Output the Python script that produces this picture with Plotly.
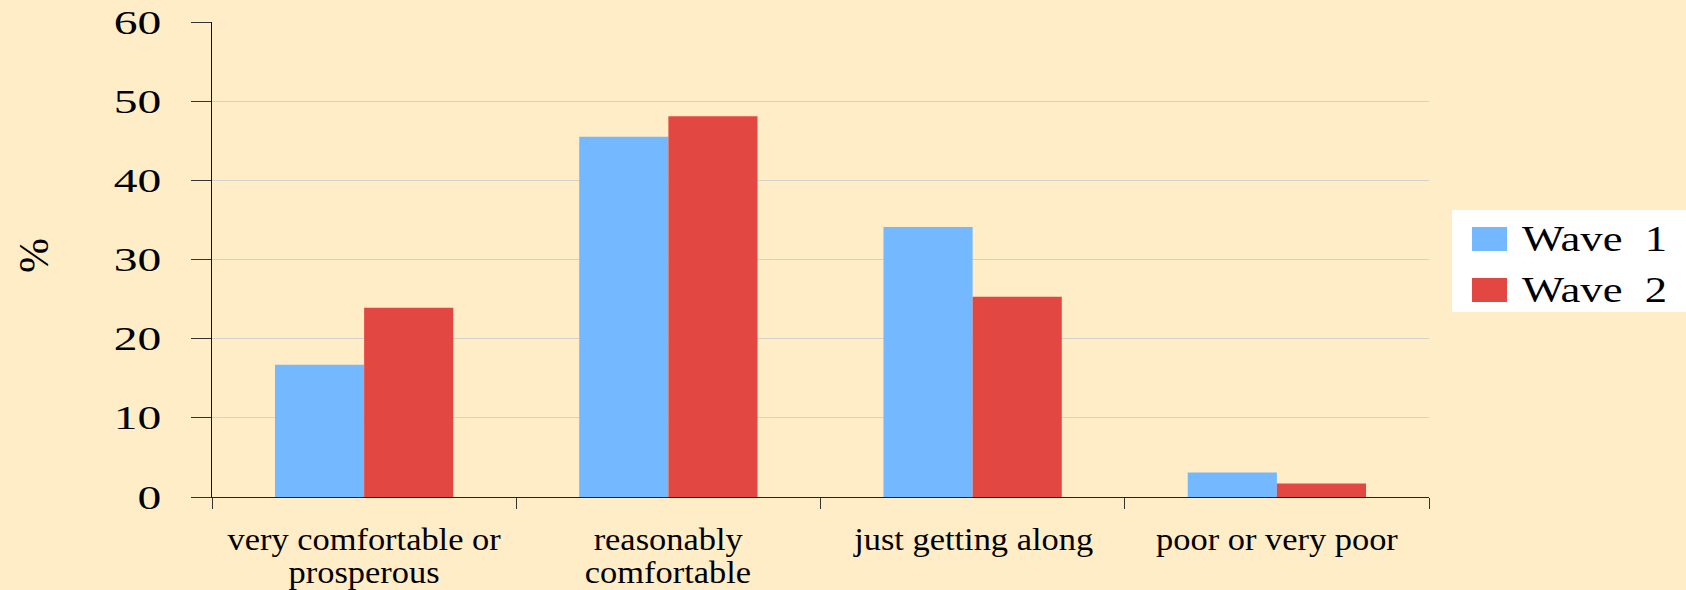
import json
import plotly.graph_objects as go

# Financial situation by survey wave (% of respondents)
categories = [
    "very comfortable or<br>prosperous",
    "reasonably<br>comfortable",
    "just getting along",
    "poor or very poor",
]
wave1 = [16.7, 45.5, 34.1, 3.1]
wave2 = [23.9, 48.1, 25.3, 1.7]
series_names = ["Wave\u00a0\u00a01", "Wave\u00a0\u00a02"]
y_ticks = [0, 10, 20, 30, 40, 50, 60]

BG = "#FFEDC7"
BLUE = "#74B9FF"
RED = "#E34742"
FONT = "Liberation Serif"

W, H = 1686, 590
L, R, T, B = 212, 257, 21.5, 92.5
plot_w = W - L - R
plot_h = H - T - B


def px_x(px):
    return (px - L) / plot_w


def px_y(py):
    return (H - B - py) / plot_h


fig = go.Figure()
fig.add_trace(go.Bar(x=categories, y=wave1, name=series_names[0],
                     marker=dict(color=BLUE, line=dict(width=0)), showlegend=False))
fig.add_trace(go.Bar(x=categories, y=wave2, name=series_names[1],
                     marker=dict(color=RED, line=dict(width=0)), showlegend=False))

# Horizontal stretch applied to the wide typeface used for labels
stretch = {}

# Category labels, one annotation per text line for tight line spacing
annotations = []
for cat in categories:
    for i, line in enumerate(cat.split("<br>")):
        annotations.append(dict(
            x=cat, xref="x", y=px_y(540 + 33.5 * i), yref="paper",
            text=line, showarrow=False, xanchor="center", yanchor="middle",
            font=dict(family=FONT, size=31, color="#000"),
        ))
        stretch[line] = 1.11

# Axis title
annotations.append(dict(
    x=px_x(34), xref="paper", y=px_y(256), yref="paper", text="%",
    textangle=-90, showarrow=False, xanchor="center", yanchor="middle",
    font=dict(family=FONT, size=42, color="#000"),
))

# Legend drawn as a white box with colour swatches
shapes = [
    dict(type="rect", xref="paper", yref="paper",
         x0=px_x(1452), x1=px_x(1690), y0=px_y(312), y1=px_y(210),
         fillcolor="#FFFFFF", line=dict(width=0), layer="above"),
]
for i, (name, color) in enumerate(zip(series_names, [BLUE, RED])):
    cy = 239 + 51 * i
    shapes.append(dict(type="rect", xref="paper", yref="paper",
                       x0=px_x(1472), x1=px_x(1507), y0=px_y(cy + 12), y1=px_y(cy - 12),
                       fillcolor=color, line=dict(width=0), layer="above"))
    annotations.append(dict(
        x=px_x(1520), xref="paper", y=px_y(cy), yref="paper", text=name,
        showarrow=False, xanchor="left", yanchor="middle", align="left",
        font=dict(family=FONT, size=36, color="#000"),
    ))
    stretch[name] = 1.24

fig.update_layout(
    width=W, height=H,
    margin=dict(l=L, r=R, t=T, b=B, pad=0, autoexpand=False),
    paper_bgcolor=BG, plot_bgcolor=BG,
    barmode="group", bargap=0.414, bargroupgap=0,
    annotations=annotations, shapes=shapes,
    showlegend=False,
)
fig.update_xaxes(
    type="category", showticklabels=False, showgrid=False, automargin=False,
    showline=True, linecolor="#222", linewidth=1.3,
    ticks="outside", tickson="boundaries", ticklen=11, tickcolor="#333", tickwidth=1.3,
)
fig.update_yaxes(
    range=[0, 60], tickvals=y_ticks, ticktext=[str(v) for v in y_ticks],
    automargin=False,
    showgrid=True, gridcolor="#D5D2CB", gridwidth=1.2,
    showline=True, linecolor="#111", linewidth=1.3,
    ticks="outside", ticklen=20, tickcolor="#333", tickwidth=1.3,
    ticklabelstandoff=23, zeroline=False,
    tickfont=dict(family=FONT, size=33, color="#000"),
)

post_js = """
var gd = document.getElementById('{plot_id}');
var annFactors = %s;
var tickFactor = %s;
function widen(t, k) {
  t.removeAttribute('textLength');
  var w = t.getComputedTextLength();
  if (w > 0) {
    t.setAttribute('textLength', (w * k).toFixed(2));
    t.setAttribute('lengthAdjust', 'spacingAndGlyphs');
  }
}
function widenAll() {
  gd.querySelectorAll('.ytick text').forEach(function (t) { widen(t, tickFactor); });
  gd.querySelectorAll('.annotation-text').forEach(function (t) {
    var k = annFactors[t.textContent];
    if (k) { widen(t, k); }
  });
}
widenAll();
setTimeout(widenAll, 50);
setTimeout(widenAll, 400);
if (gd.on) { gd.on('plotly_afterplot', widenAll); }
""" % (json.dumps(stretch), json.dumps(1.44))

fig.write_html("out.html", post_script=post_js)
